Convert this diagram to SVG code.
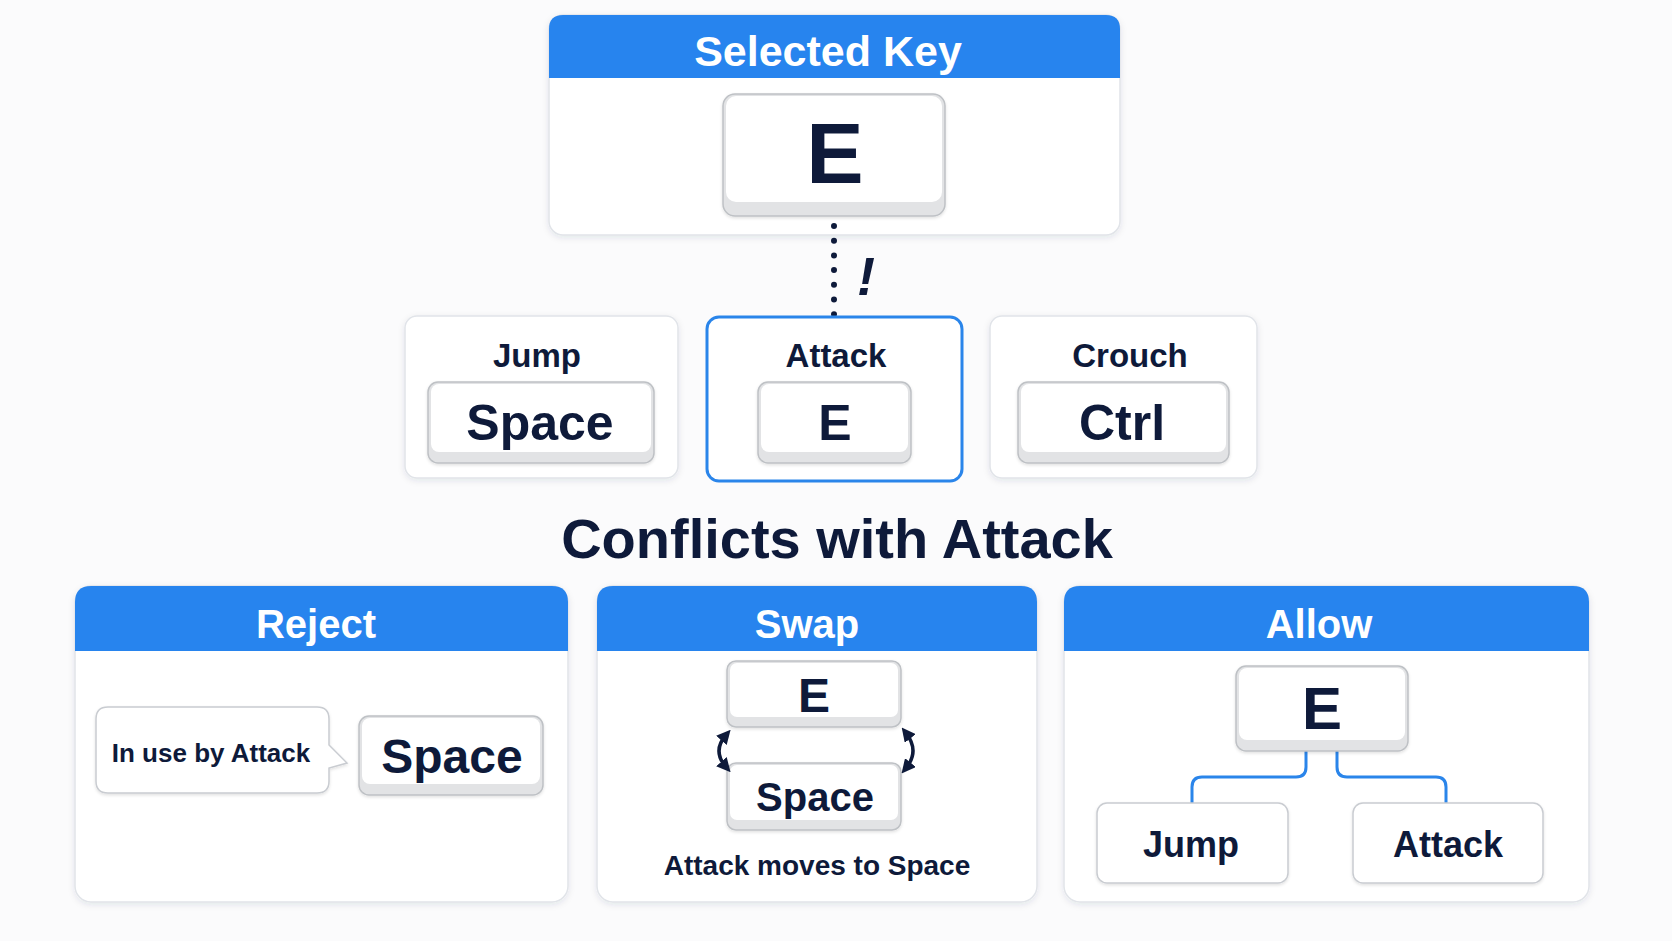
<svg xmlns="http://www.w3.org/2000/svg" width="1672" height="941" viewBox="0 0 1672 941">
<defs>
<filter id="sh" x="-10%" y="-10%" width="120%" height="130%">
<feDropShadow dx="0" dy="2" stdDeviation="3" flood-color="#1a2a4a" flood-opacity="0.10"/>
</filter>
<filter id="ksh" x="-10%" y="-10%" width="120%" height="130%">
<feDropShadow dx="0" dy="1.5" stdDeviation="1.5" flood-color="#000" flood-opacity="0.12"/>
</filter>
<marker id="ah" viewBox="0 0 10 10" refX="5" refY="5" markerWidth="4" markerHeight="4" orient="auto-start-reverse">
<path d="M0,0 L10,5 L0,10 Z" fill="#0E1A3A"/>
</marker>
</defs>
<style>
.card{fill:#FFFFFF;stroke:#E1E4E9;stroke-width:1.5;filter:url(#sh)}
.hdr{fill:#2784EE}
.ht{font-family:"Liberation Sans",Arial,sans-serif;font-weight:bold;fill:#FFFFFF;text-anchor:middle}
.t{font-family:"Liberation Sans",Arial,sans-serif;font-weight:bold;fill:#0E1A3A;text-anchor:middle}
.kb{fill:#E2E3E5;stroke:#BEC1C5;stroke-width:1.5;filter:url(#ksh)}
.kt{fill:#FFFFFF}
.box{fill:#FFFFFF;stroke:#C9CCD1;stroke-width:1.5;filter:url(#ksh)}
.conn{fill:none;stroke:#2A85EA;stroke-width:3}
</style>
<rect x="0" y="0" width="1672" height="941" fill="#FBFBFC"/>

<g id="selected-key">
<rect class="card" x="549" y="15" width="571" height="220" rx="14"/>
<path class="hdr" d="M549,78 V29 Q549,15 563,15 H1106 Q1120,15 1120,29 V78 Z"/>
<text class="ht" x="828" y="66" font-size="43">Selected Key</text>
<g>
<rect class="kb" x="723" y="94" width="222" height="122" rx="12"/>
<rect class="kt" x="726" y="96" width="216" height="106" rx="10"/>
<text class="t" x="835" y="183" font-size="86">E</text>
</g>
</g>

<g id="connectors">
<line x1="834" y1="226" x2="834" y2="315" stroke="#0E1A3A" stroke-width="6" stroke-linecap="round" stroke-dasharray="0 14.7"/>
<text class="t" x="866" y="295" font-size="54" font-style="italic">!</text>
</g>

<g id="jump">
<rect class="card" x="405" y="316" width="273" height="162" rx="12"/>
<text class="t" x="537" y="367" font-size="33">Jump</text>
<rect class="kb" x="428" y="382" width="226" height="81" rx="10"/>
<rect class="kt" x="431" y="384" width="220" height="68" rx="8"/>
<text class="t" x="540" y="440" font-size="50">Space</text>
</g>

<g id="attack">
<rect x="707" y="317" width="255" height="164" rx="12" fill="#FFFFFF" stroke="#2A85EA" stroke-width="3"/>
<text class="t" x="836" y="367" font-size="33">Attack</text>
<rect class="kb" x="758" y="382" width="153" height="81" rx="10"/>
<rect class="kt" x="761" y="384" width="147" height="68" rx="8"/>
<text class="t" x="835" y="440" font-size="50">E</text>
</g>

<g id="crouch">
<rect class="card" x="990" y="316" width="267" height="162" rx="12"/>
<text class="t" x="1130" y="367" font-size="33">Crouch</text>
<rect class="kb" x="1018" y="382" width="211" height="81" rx="10"/>
<rect class="kt" x="1021" y="384" width="205" height="68" rx="8"/>
<text class="t" x="1122" y="440" font-size="50">Ctrl</text>
</g>

<text id="conflicts-title" class="t" x="837" y="558" font-size="56">Conflicts with Attack</text>

<g id="reject">
<rect class="card" x="75" y="586" width="493" height="316" rx="16"/>
<path class="hdr" d="M75,651 V602 Q75,586 91,586 H552 Q568,586 568,602 V651 Z"/>
<text class="ht" x="316" y="638" font-size="40">Reject</text>
<path d="M108,707 H317 Q329,707 329,719 V745 L347,763 L329,768 V781 Q329,793 317,793 H108 Q96,793 96,781 V719 Q96,707 108,707 Z" fill="#FFFFFF" stroke="#C9CCD1" stroke-width="1.5" filter="url(#ksh)"/>
<text class="t" x="211" y="762" font-size="26">In use by Attack</text>
<rect class="kb" x="359" y="716" width="184" height="79" rx="10"/>
<rect class="kt" x="362" y="718" width="178" height="66" rx="8"/>
<text class="t" x="452" y="773" font-size="48">Space</text>
</g>

<g id="swap">
<rect class="card" x="597" y="586" width="440" height="316" rx="16"/>
<path class="hdr" d="M597,651 V602 Q597,586 613,586 H1021 Q1037,586 1037,602 V651 Z"/>
<text class="ht" x="807" y="638" font-size="40">Swap</text>
<rect class="kb" x="727" y="661" width="174" height="66" rx="9"/>
<rect class="kt" x="730" y="663" width="168" height="54" rx="7"/>
<text class="t" x="814" y="712" font-size="48">E</text>
<rect class="kb" x="727" y="763" width="174" height="67" rx="9"/>
<rect class="kt" x="730" y="765" width="168" height="55" rx="7"/>
<text class="t" x="815" y="811" font-size="40">Space</text>
<path d="M726,735 Q712,751 726,767" fill="none" stroke="#0E1A3A" stroke-width="3.5" marker-start="url(#ah)" marker-end="url(#ah)"/>
<path d="M906,733 Q920,751 906,768" fill="none" stroke="#0E1A3A" stroke-width="3.5" marker-start="url(#ah)" marker-end="url(#ah)"/>
<text class="t" x="817" y="875" font-size="28">Attack moves to Space</text>
</g>

<g id="allow">
<rect class="card" x="1064" y="586" width="525" height="316" rx="16"/>
<path class="hdr" d="M1064,651 V602 Q1064,586 1080,586 H1573 Q1589,586 1589,602 V651 Z"/>
<text class="ht" x="1319" y="638" font-size="40">Allow</text>
<path class="conn" d="M1306,751 V767 Q1306,777 1296,777 H1202 Q1192,777 1192,787 V803"/>
<path class="conn" d="M1337,751 V767 Q1337,777 1347,777 H1436 Q1446,777 1446,787 V803"/>
<rect class="kb" x="1236" y="666" width="172" height="85" rx="10"/>
<rect class="kt" x="1239" y="668" width="166" height="72" rx="8"/>
<text class="t" x="1322" y="729" font-size="60">E</text>
<rect class="box" x="1097" y="803" width="191" height="80" rx="10"/>
<text class="t" x="1191" y="857" font-size="36">Jump</text>
<rect class="box" x="1353" y="803" width="190" height="80" rx="10"/>
<text class="t" x="1448" y="857" font-size="36">Attack</text>
</g>
</svg>
